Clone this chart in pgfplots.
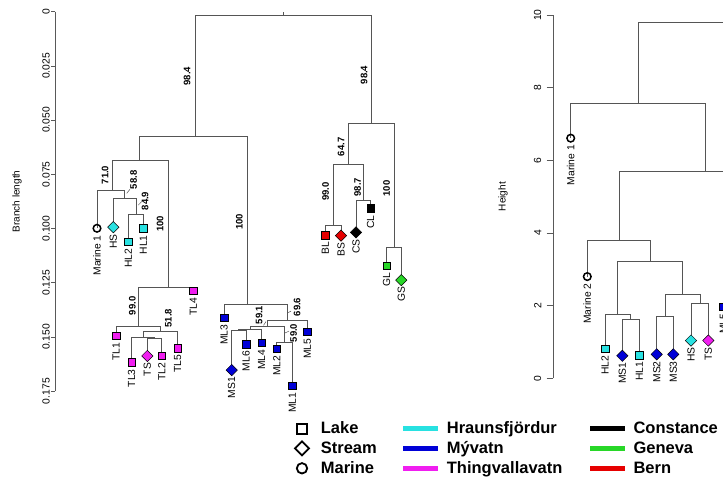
\documentclass[border=0pt]{standalone}
\usepackage{pgfplots}
\pgfplotsset{compat=1.18}
\usepackage{fontspec}
\setmainfont{Liberation Sans}
\definecolor{cyanM}{RGB}{40,225,225}
\definecolor{blueM}{RGB}{0,0,215}
\definecolor{magM}{RGB}{240,30,240}
\definecolor{greenM}{RGB}{40,215,40}
\definecolor{redM}{RGB}{230,0,0}
\definecolor{treeC}{RGB}{85,85,85}
\tikzset{boot/.style={rotate=90, font=\bfseries\fontsize{9.5}{10}\selectfont, inner sep=0pt}}
\pgfplotsset{
  tree/.style={treeC, line width=0.8pt, no markers},
  leader/.style={treeC, line width=0.5pt, no markers},
  leafnode/.style={only marks, point meta=explicit symbolic,
     nodes near coords={\pgfplotspointmeta},
     every node near coord/.append style={rotate=90, anchor=east, inner sep=0pt, outer sep=7pt,
        font=\fontsize{10.3}{12}\selectfont, text=black}},
  sq/.style={leafnode, mark=square*, mark size=3.8pt, mark options={fill=#1, draw=black, line width=0.5pt}},
  dm/.style={leafnode, mark=square*, mark size=4pt, mark options={rotate=45, fill=#1, draw=black, line width=0.5pt}},
  ci/.style={leafnode, mark=o, mark size=3.8pt, mark options={draw=black, line width=1.5pt}},
  dendro/.style={scale only axis, clip=false, axis x line=none, axis y line*=left,
     axis line style={draw=black!65, line width=0.6pt},
     major tick style={draw=black!65, line width=0.6pt},
     tick align=outside,
     /pgf/number format/assume math mode=true,
     ticklabel style={font=\fontsize{10.3}{12}\selectfont},
     ylabel style={font=\fontsize{10}{12}\selectfont, anchor=center}},
}
\begin{document}
\begin{tikzpicture}
\useasboundingbox (0pt,0pt) rectangle (723pt,-480pt);
\clip (0pt,0pt) rectangle (723pt,-480pt);

% ---------------- left dendrogram (branch length) ----------------
\begin{axis}[dendro,
  at={(55pt,-11.7pt)}, anchor=north west,
  width=400pt, height=379.4pt,
  xmin=55, xmax=455, ymin=0, ymax=0.175, y dir=reverse,
  ytick={0,0.025,0.05,0.075,0.1,0.125,0.15,0.175},
  yticklabels={0,0.025,0.050,0.075,0.100,0.125,0.150,0.175},
  major tick length=3.5pt,
  yticklabel style={rotate=90, anchor=south, inner sep=1.5pt},
  ylabel={Branch length},
  ylabel style={at={(axis description cs:-0.095,0.5)}},
]
% tree segments
\addplot[tree] coordinates {(195,0.0577) (195,0.0018) (371.7,0.0018) (371.7,0.0515)};
\addplot[tree] coordinates {(283.3,0.0018) (283.3,0)};
\addplot[tree] coordinates {(139.3,0.0687) (139.3,0.0577) (247.3,0.0577) (247.3,0.1348)};
\addplot[tree] coordinates {(348.3,0.0704) (348.3,0.0515) (394,0.0515) (394,0.1085)};
\addplot[tree] coordinates {(112.7,0.0826) (112.7,0.0687) (168.3,0.0687) (168.3,0.1271)};
\addplot[tree] coordinates {(97,0.0999) (97,0.0826) (124.3,0.0826) (124.3,0.0861)};
\addplot[tree] coordinates {(113.3,0.0994) (113.3,0.0861) (136,0.0861) (136,0.0934)};
\addplot[tree] coordinates {(128.3,0.1061) (128.3,0.0934) (143.3,0.0934) (143.3,0.0999)};
\addplot[tree] coordinates {(138.3,0.1450) (138.3,0.1271) (193.3,0.1271) (193.3,0.1287)};
\addplot[tree] coordinates {(116,0.1494) (116,0.1450) (160,0.1450) (160,0.1476)};
\addplot[tree] coordinates {(143.1,0.1502) (143.1,0.1476) (177.7,0.1476) (177.7,0.1551)};
\addplot[tree] coordinates {(131.7,0.1617) (131.7,0.1502) (154.5,0.1502) (154.5,0.1507)};
\addplot[tree] coordinates {(147.3,0.1588) (147.3,0.1507) (161.7,0.1507) (161.7,0.1587)};
\addplot[tree] coordinates {(224,0.1411) (224,0.1348) (287.3,0.1348) (287.3,0.1425)};
\addplot[tree] coordinates {(267.3,0.1450) (267.3,0.1425) (307.3,0.1425) (307.3,0.1476)};
\addplot[tree] coordinates {(250.3,0.1464) (250.3,0.1450) (284.5,0.1450) (284.5,0.1527)};
\addplot[tree] coordinates {(238.8,0.1470) (238.8,0.1464) (261.7,0.1464) (261.7,0.1527)};
\addplot[tree] coordinates {(231.7,0.1653) (231.7,0.1470) (246,0.1470) (246,0.1533)};
\addplot[tree] coordinates {(276.7,0.1554) (276.7,0.1527) (292.3,0.1527) (292.3,0.1725)};
\addplot[tree] coordinates {(333.3,0.0985) (333.3,0.0704) (363.3,0.0704) (363.3,0.0869)};
\addplot[tree] coordinates {(325.3,0.1030) (325.3,0.0985) (341,0.0985) (341,0.1033)};
\addplot[tree] coordinates {(356,0.1018) (356,0.0869) (370.7,0.0869) (370.7,0.0907)};
\addplot[tree] coordinates {(386.7,0.1172) (386.7,0.1085) (401.3,0.1085) (401.3,0.1238)};
% leader lines of support labels
\addplot[leader] coordinates {(126.7,0.0838) (130,0.0819)};
\addplot[leader] coordinates {(138.3,0.0892) (141.7,0.0876)};
\addplot[leader] coordinates {(263.5,0.1447) (266,0.1429)};
\addplot[leader] coordinates {(287.3,0.1390) (291,0.1381)};
\addplot[leader] coordinates {(285,0.1482) (289,0.1473)};
% leaves
\addplot[ci] coordinates {(97,0.0999) [Marine 1]};
\addplot[dm=cyanM] coordinates {(113.3,0.0994) [HS]};
\addplot[sq=cyanM] coordinates {(128.3,0.1061) [HL2] (143.3,0.0999) [HL1]};
\addplot[sq=magM] coordinates {(193.3,0.1287) [TL4] (116,0.1494) [TL1] (177.7,0.1551) [TL5] (131.7,0.1617) [TL3] (161.7,0.1587) [TL2]};
\addplot[dm=magM] coordinates {(147.3,0.1588) [TS]};
\addplot[sq=blueM] coordinates {(224,0.1411) [ML3] (307.3,0.1476) [ML5] (246,0.1533) [ML6] (261.7,0.1527) [ML4] (276.7,0.1554) [ML2] (292.3,0.1725) [ML1]};
\addplot[dm=blueM] coordinates {(231.7,0.1653) [MS1]};
\addplot[sq=redM] coordinates {(325.3,0.1030) [BL]};
\addplot[dm=redM] coordinates {(341,0.1033) [BS]};
\addplot[dm=black] coordinates {(356,0.1018) [CS]};
\addplot[sq=black] coordinates {(370.7,0.0907) [CL]};
\addplot[sq=greenM] coordinates {(386.7,0.1172) [GL]};
\addplot[dm=greenM] coordinates {(401.3,0.1238) [GS]};
% bootstrap support
\node[boot] at (axis cs:187,0.0297) {98.4};
\node[boot] at (axis cs:364,0.0292) {98.4};
\node[boot] at (axis cs:105,0.0753) {71.0};
\node[boot] at (axis cs:133.5,0.0776) {58.8};
\node[boot] at (axis cs:145,0.0873) {84.9};
\node[boot] at (axis cs:160,0.0979) {100};
\node[boot] at (axis cs:132.3,0.1357) {99.0};
\node[boot] at (axis cs:168.3,0.1414) {51.8};
\node[boot] at (axis cs:239.3,0.0969) {100};
\node[boot] at (axis cs:259,0.1399) {59.1};
\node[boot] at (axis cs:297,0.1362) {69.6};
\node[boot] at (axis cs:293.5,0.1482) {59.0};
\node[boot] at (axis cs:341,0.0623) {64.7};
\node[boot] at (axis cs:325.7,0.0830) {99.0};
\node[boot] at (axis cs:357.7,0.0810) {98.7};
\node[boot] at (axis cs:386.7,0.0815) {100};
\end{axis}

% ---------------- right dendrogram (height) ----------------
\begin{axis}[dendro,
  at={(553pt,-378.3pt)}, anchor=south west,
  width=400pt, height=363.3pt,
  xmin=553, xmax=953, ymin=0, ymax=10,
  ytick={0,2,4,6,8,10},
  major tick length=6.5pt,
  yticklabel style={rotate=90, anchor=south, inner sep=5pt},
  ylabel={Height},
  ylabel style={at={(axis description cs:-0.125,0.5)}},
]
\addplot[tree] coordinates {(638.3,7.57) (638.3,9.79) (770,9.79)};
\addplot[tree] coordinates {(570.7,6.61) (570.7,7.57) (705.7,7.57) (705.7,5.69)};
\addplot[tree] coordinates {(619,3.79) (619,5.69) (770,5.69)};
\addplot[tree] coordinates {(587.3,2.80) (587.3,3.79) (650,3.79) (650,3.21)};
\addplot[tree] coordinates {(617.3,1.76) (617.3,3.21) (682.7,3.21) (682.7,2.31)};
\addplot[tree] coordinates {(605,0.81) (605,1.76) (630.7,1.76) (630.7,1.62)};
\addplot[tree] coordinates {(622.3,0.62) (622.3,1.62) (639.3,1.62) (639.3,0.64)};
\addplot[tree] coordinates {(665.7,1.70) (665.7,2.31) (700,2.31) (700,2.06)};
\addplot[tree] coordinates {(656.7,0.66) (656.7,1.70) (673.3,1.70) (673.3,0.66)};
\addplot[tree] coordinates {(691,1.04) (691,2.06) (708.3,2.06) (708.3,1.04)};
\addplot[ci] coordinates {(570.7,6.61) [Marine 1] (587.3,2.80) [Marine 2]};
\addplot[sq=cyanM] coordinates {(605,0.81) [HL2] (639.3,0.64) [HL1]};
\addplot[dm=blueM] coordinates {(622.3,0.62) [MS1] (656.7,0.66) [MS2] (673.3,0.66) [MS3]};
\addplot[dm=cyanM] coordinates {(691,1.04) [HS]};
\addplot[dm=magM] coordinates {(708.3,1.04) [TS]};
\addplot[sq=blueM] coordinates {(723.5,1.97) [ML5]};
\end{axis}

% ---------------- legend ----------------
\begin{scope}[x=1pt, y=-1pt]
\draw[line width=1.8pt] (296.7,424) rectangle (306.7,434);
\draw[line width=1.8pt] (302,441.3) -- (309,448.3) -- (302,455.3) -- (295,448.3) -- cycle;
\draw[line width=1.8pt] (302,468.3) circle (5.2pt);
\draw[cyanM, line width=4.5pt] (403.3,428.3) -- (438.3,428.3);
\draw[blueM, line width=4.5pt] (403.3,448.3) -- (438.3,448.3);
\draw[magM, line width=4.5pt] (403.3,468.3) -- (438.3,468.3);
\draw[black, line width=4.5pt] (590,428.3) -- (625,428.3);
\draw[greenM, line width=4.5pt] (590,448.3) -- (625,448.3);
\draw[redM, line width=4.5pt] (590,468.3) -- (625,468.3);
\begin{scope}[every node/.style={anchor=base west, inner sep=0pt, font=\bfseries\fontsize{16.5}{18}\selectfont}]
\node at (320.7,433.8) {Lake};
\node at (320.7,453.8) {Stream};
\node at (320.7,473.8) {Marine};
\node at (446.7,433.8) {Hraunsfjördur};
\node at (446.7,453.8) {Mývatn};
\node at (446.7,473.8) {Thingvallavatn};
\node at (633.3,433.8) {Constance};
\node at (633.3,453.8) {Geneva};
\node at (633.3,473.8) {Bern};
\end{scope}
\end{scope}
\end{tikzpicture}
\end{document}
